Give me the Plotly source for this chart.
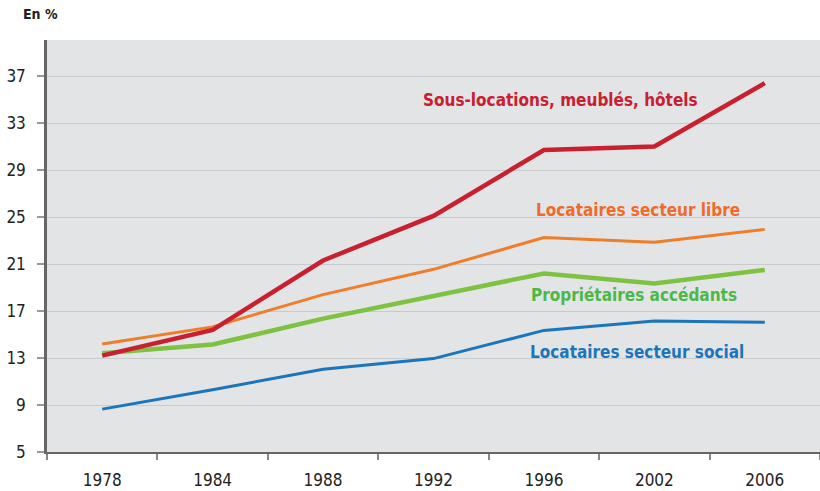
import plotly.graph_objects as go

years = ["1978", "1984", "1988", "1992", "1996", "2002", "2006"]
sous_locations = [13.2, 15.4, 21.3, 25.1, 30.7, 31.0, 36.4]
locataires_libre = [14.2, 15.65, 18.4, 20.55, 23.25, 22.85, 23.95]
proprietaires_accedants = [13.4, 14.15, 16.35, 18.25, 20.2, 19.35, 20.5]
locataires_social = [8.65, 10.3, 12.05, 12.95, 15.35, 16.15, 16.05]
y_ticks = [5, 9, 13, 17, 21, 25, 29, 33, 37]

series = [
    ("Locataires secteur social", locataires_social, "#1b75bc", 3),
    ("Propriétaires accédants", proprietaires_accedants, "#7dc242", 4.5),
    ("Locataires secteur libre", locataires_libre, "#ef7d2a", 3),
    ("Sous-locations, meublés, hôtels", sous_locations, "#c8202f", 4.5),
]

FONT = "DejaVu Sans Condensed, Open Sans, sans-serif"

fig = go.Figure()
for name, vals, color, w in series:
    fig.add_trace(go.Scatter(x=years, y=vals, mode="lines", name=name,
                             line=dict(color=color, width=w), showlegend=False,
                             hoverinfo="skip"))

labels = [
    ("Sous-locations, meublés, hôtels", 4.15, 35.0, "#c8202f"),
    ("Locataires secteur libre", 4.85, 25.6, "#ef6b2a"),
    ("Propriétaires accédants", 4.82, 18.35, "#4cb848"),
    ("Locataires secteur social", 4.84, 13.5, "#1b75bc"),
]
for text, x, y, color in labels:
    fig.add_annotation(x=x, y=y, xref="x", yref="y", text="<b>%s</b>" % text,
                       showarrow=False, font=dict(size=17, color=color, family=FONT))

fig.add_annotation(xref="paper", yref="paper", x=-0.033, y=1.062,
                   xanchor="left", yanchor="middle", text="<b>En %</b>",
                   showarrow=False, font=dict(size=14, color="#222", family=FONT))

fig.update_layout(
    width=820, height=491,
    margin=dict(l=47, r=0, t=40, b=39),
    paper_bgcolor="white", plot_bgcolor="#e3e4e6",
    font=dict(family=FONT, size=16, color="#222"),
)
fig.update_xaxes(type="category", range=[-0.5, 6.5], tickson="boundaries",
                 ticks="outside", ticklen=6, tickcolor="#888", tickwidth=1.5,
                 showline=True, linecolor="#666", linewidth=2, showgrid=False,
                 tickfont=dict(size=17), ticklabelstandoff=12, automargin=False)
fig.update_yaxes(range=[5, 40.07], tickvals=y_ticks, ticks="outside", ticklen=7,
                 tickcolor="#999", tickwidth=2, showline=True, linecolor="#666",
                 linewidth=2.5, showgrid=True, gridcolor="#c9cacc", gridwidth=1,
                 zeroline=False, tickfont=dict(size=17), ticklabelstandoff=8,
                 automargin=False)

fig.write_html("out.html", config={"displayModeBar": False},
               post_script="document.body.style.margin='0';document.body.style.padding='0';")
